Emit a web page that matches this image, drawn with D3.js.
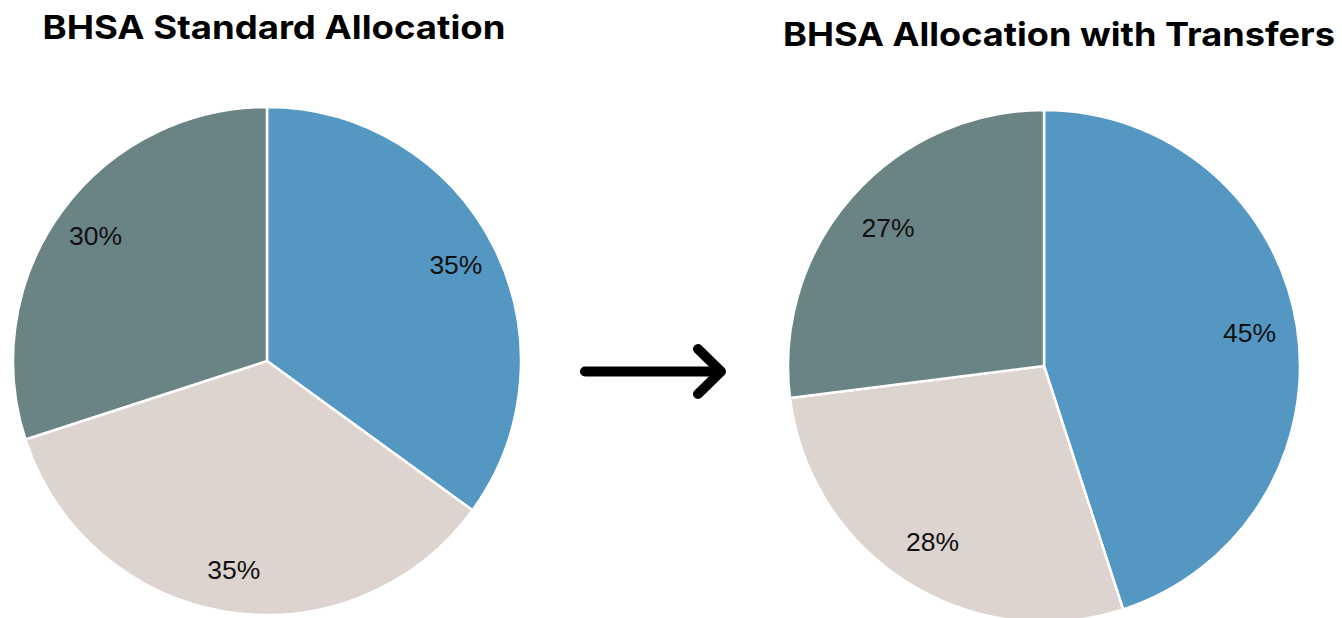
<!DOCTYPE html>
<html><head><meta charset="utf-8">
<script src="https://cdn.jsdelivr.net/npm/d3@7"></script>
<style>body{margin:0;background:#fff}svg{display:block}</style>
</head><body>
<svg id="c" width="1342" height="618"></svg>
<script>
const categories = ["Blue", "Beige", "Gray"];
const standardValues = [35, 35, 30];
const transferValues = [45, 28, 27];
const titles = ["BHSA Standard Allocation", "BHSA Allocation with Transfers"];
const colors = ["#5497C2", "#DDD3CF", "#6A8385"];

const svg = d3.select("#c");
const color = d3.scaleOrdinal().domain(categories).range(colors);

function drawPie(values, cx, cy, r, labelR) {
  const data = categories.map((c, i) => ({cat: c, value: values[i]}));
  const pie = d3.pie().sort(null).value(d => d.value);
  const arc = d3.arc().innerRadius(0).outerRadius(r);
  const lab = d3.arc().innerRadius(labelR).outerRadius(labelR);
  const g = svg.append("g").attr("transform", `translate(${cx},${cy})`);
  const arcs = pie(data);
  g.selectAll("path").data(arcs).join("path")
    .attr("d", arc).attr("fill", d => color(d.data.cat))
    .attr("stroke", "#fff").attr("stroke-width", 2.5).attr("stroke-linejoin", "round");
  g.selectAll("text").data(arcs).join("text")
    .attr("transform", d => `translate(${lab.centroid(d)})`)
    .attr("text-anchor", "middle").attr("dominant-baseline", "central")
    .attr("font-family", "Liberation Sans, Arial, sans-serif")
    .attr("font-size", 26.5).attr("fill", "#111")
    .text(d => d.data.value + "%");
}

drawPie(standardValues, 267, 361, 254, 212);
drawPie(transferValues, 1044, 366, 256, 208);

svg.append("text").attr("x", 274).attr("y", 39).attr("text-anchor", "middle")
  .attr("font-family", "Inter, Roboto, sans-serif").attr("font-weight", 700)
  .attr("font-size", 33).attr("fill", "#000").attr("textLength", 463).attr("lengthAdjust","spacingAndGlyphs").text(titles[0]);
svg.append("text").attr("x", 1059).attr("y", 46).attr("text-anchor", "middle")
  .attr("font-family", "Inter, Roboto, sans-serif").attr("font-weight", 700)
  .attr("font-size", 33).attr("fill", "#000").attr("textLength", 552).attr("lengthAdjust","spacingAndGlyphs").text(titles[1]);

// arrow
const arrow = svg.append("g").attr("stroke", "#000").attr("stroke-width", 10)
  .attr("stroke-linecap", "round").attr("stroke-linejoin", "round").attr("fill", "none");
arrow.append("line").attr("x1", 585).attr("y1", 371.5).attr("x2", 720).attr("y2", 371.5);
arrow.append("polyline").attr("points", "698,349 721,371.5 698,394");
</script>
</body></html>
